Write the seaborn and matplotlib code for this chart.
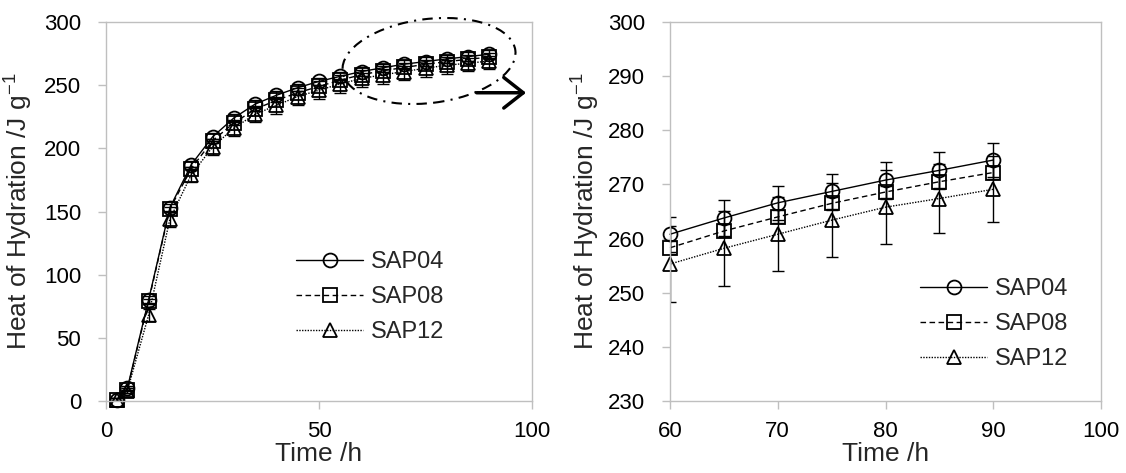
import matplotlib
matplotlib.use("Agg")
import matplotlib.pyplot as plt
import numpy as np
import pandas as pd
import seaborn as sns
from matplotlib.patches import Ellipse

# ---------------- data ----------------
time_h = [2.5, 5, 10, 15, 20, 25, 30, 35, 40, 45, 50, 55, 60, 65, 70, 75, 80, 85, 90]
sap04 = [1, 10, 80, 153, 187, 209, 224, 235, 242, 248, 253, 257,
         260.8, 263.8, 266.6, 268.7, 270.8, 272.6, 274.5]
sap08 = [1, 9, 79, 152, 184, 206, 220, 231, 238, 244, 249, 254,
         258.3, 261.4, 264.0, 266.5, 268.6, 270.5, 272.2]
sap12 = [1, 8, 68, 144, 179, 201, 216, 227, 234, 241, 246, 251,
         255.3, 258.2, 260.8, 263.4, 265.8, 267.4, 269.1]
sap04_err = [1, 1.5, 3, 3, 3, 3, 3, 3, 3, 3, 3, 3.2,
             3.2, 3.3, 3.1, 3.3, 3.3, 3.4, 3.2]
sap08_err = [1, 1, 1.5, 1.5, 1.5, 1.5, 1.5, 1.5, 1.5, 1.5, 1.5, 1.2,
             1.2, 1.2, 1.2, 1.2, 1.2, 1.2, 1.2]
sap12_err = [1, 2, 5, 6, 6, 6, 6.5, 6.5, 6.5, 6.5, 7, 7,
             7.1, 6.9, 6.8, 6.8, 6.8, 6.3, 6.1]
series_names = ["SAP04", "SAP08", "SAP12"]

left_xticks = [0, 50, 100]
left_yticks = [0, 50, 100, 150, 200, 250, 300]
right_xticks = [60, 70, 80, 90, 100]
right_yticks = [230, 240, 250, 260, 270, 280, 290, 300]

MARKERS = {"SAP04": "o", "SAP08": "s", "SAP12": "^"}
DASHES = {"SAP04": "", "SAP08": (4, 2.5), "SAP12": (1, 1)}

# ---------------- style ----------------
sns.set_style("ticks")
plt.rcParams["font.family"] = ["Liberation Sans", "DejaVu Sans"]
plt.rcParams["mathtext.fontset"] = "custom"
plt.rcParams["mathtext.rm"] = "Liberation Sans"
plt.rcParams["mathtext.it"] = "Liberation Sans:italic"
FS_TICK = 16
FS_LAB = 19
FS_LEG = 17
GRAY = "#BFBFBF"

df = pd.DataFrame({
    "Time": time_h * 3,
    "Heat": sap04 + sap08 + sap12,
    "Err": sap04_err + sap08_err + sap12_err,
    "Sample": sum([[n] * len(time_h) for n in series_names], []),
})

W, H = 1126, 473
fig = plt.figure(figsize=(W / 100, H / 100), dpi=100)
ax1 = fig.add_axes([106 / W, 72 / H, 426 / W, 379 / H])
ax2 = fig.add_axes([670 / W, 72 / H, 431 / W, 379 / H])


def draw(ax, data):
    sns.lineplot(data=data, x="Time", y="Heat", style="Sample",
                 style_order=series_names, markers=MARKERS, dashes=DASHES,
                 color="k", linewidth=1.0, markersize=10,
                 markerfacecolor="none", markeredgecolor="k",
                 markeredgewidth=1.3, errorbar=None, ax=ax, clip_on=False)
    for name in series_names:
        sub = data[data["Sample"] == name]
        ax.errorbar(sub["Time"], sub["Heat"], yerr=sub["Err"], fmt="none",
                    ecolor="k", elinewidth=1.0, capsize=4.3, capthick=1.0)


draw(ax1, df)
draw(ax2, df[df["Time"] >= 60])

for ax, xt, yt, lp in [(ax1, left_xticks, left_yticks, 6),
                       (ax2, right_xticks, right_yticks, 4)]:
    ax.set_xlim(xt[0], xt[-1])
    ax.set_ylim(yt[0], yt[-1])
    ax.set_xticks(xt)
    ax.set_yticks(yt)
    for s in ax.spines.values():
        s.set_visible(True)
        s.set_color(GRAY)
        s.set_linewidth(1.0)
    ax.tick_params(axis="both", direction="out", length=6, width=1,
                   color=GRAY, labelsize=FS_TICK, labelcolor="black")
    ax.tick_params(axis="y", pad=12)
    ax.tick_params(axis="x", pad=8.5)
    ax.set_xlabel("Time /h", fontsize=FS_LAB, labelpad=0)
    ax.set_ylabel("Heat of Hydration /J g$^{-1}$", fontsize=FS_LAB, labelpad=lp)

leg_kw = dict(frameon=False, fontsize=FS_LEG, handlelength=2.84, handletextpad=0.34,
              labelspacing=0.545, borderpad=0, borderaxespad=0, loc="center left")
ax1.legend(bbox_to_anchor=(0.446, 0.274), **leg_kw)
ax2.legend(bbox_to_anchor=(0.580, 0.203), **leg_kw)

# zoom indicator on the left panel
ell = Ellipse((429 / 100, (H - 61) / 100), 174 / 100, 84 / 100, angle=7,
              transform=fig.dpi_scale_trans, fill=False, edgecolor="k",
              linewidth=1.5, linestyle=(0, (5, 3, 1, 3)), clip_on=False)
fig.add_artist(ell)
ax1.annotate("", xy=(98.6, 244), xytext=(87, 244),
             arrowprops=dict(arrowstyle="->,head_length=0.7,head_width=0.55",
                             lw=2.5, color="k", mutation_scale=20,
                             shrinkA=0, shrinkB=0))

fig.savefig("out.png", dpi=100)
